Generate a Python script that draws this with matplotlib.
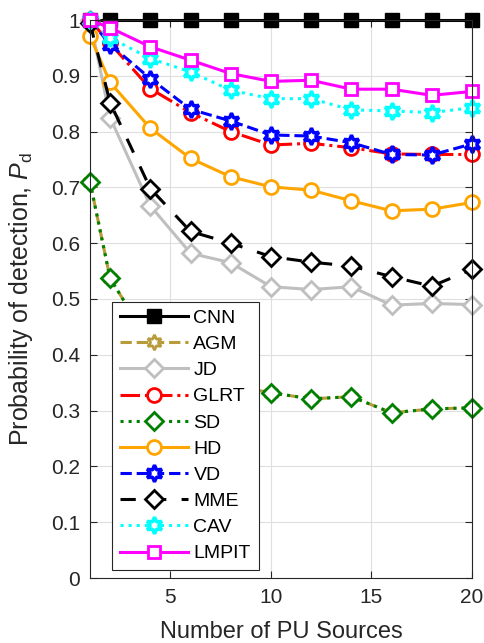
import numpy as np
import matplotlib
matplotlib.use('Agg')
from matplotlib import pyplot as plt

plt.rcParams['font.family'] = ['Liberation Sans', 'DejaVu Sans']
plt.rcParams['mathtext.fontset'] = 'custom'
plt.rcParams['mathtext.it'] = 'Liberation Sans:italic'
plt.rcParams['mathtext.rm'] = 'Liberation Sans'

sources = [1, 2, 4, 6, 8, 10, 12, 14, 16, 18, 20]

cnn = [1.0, 1.0, 1.0, 1.0, 1.0, 1.0, 1.0, 1.0, 1.0, 1.0, 1.0]
agm = [0.710, 0.537, 0.420, 0.370, 0.345, 0.332, 0.321, 0.325, 0.296, 0.303, 0.305]
jd = [1.0, 0.825, 0.667, 0.582, 0.565, 0.522, 0.517, 0.522, 0.489, 0.492, 0.490]
glrt = [1.0, 0.958, 0.877, 0.834, 0.800, 0.776, 0.779, 0.771, 0.760, 0.759, 0.759]
sd = [0.710, 0.537, 0.420, 0.370, 0.345, 0.332, 0.321, 0.325, 0.296, 0.303, 0.305]
hd = [0.971, 0.888, 0.806, 0.752, 0.719, 0.701, 0.695, 0.676, 0.658, 0.661, 0.673]
vd = [1.0, 0.956, 0.895, 0.840, 0.819, 0.794, 0.792, 0.780, 0.759, 0.758, 0.778]
mme = [0.995, 0.852, 0.698, 0.621, 0.600, 0.576, 0.566, 0.559, 0.540, 0.523, 0.553]
cav = [1.0, 0.968, 0.931, 0.907, 0.874, 0.859, 0.859, 0.839, 0.837, 0.834, 0.843]
lmpit = [1.0, 0.986, 0.952, 0.928, 0.904, 0.890, 0.892, 0.876, 0.876, 0.865, 0.872]

hexagram = (6, 1, 0)
dark = '#262626'

fig = plt.figure(figsize=(4.85, 6.43), dpi=100)
ax = fig.add_axes([90 / 485, 1 - 578 / 643, 382 / 485, 558 / 643])

lw = 2.2
common = dict(lw=lw, clip_on=False)
ax.plot(sources, cnn, '-', color='black', marker='s', ms=10,
        mfc='black', mec='black', label='CNN', **common)
ax.plot(sources, agm, '--', color='#B89B3A', marker=hexagram, ms=11,
        mfc='white', mec='#B89B3A', mew=2, label='AGM', **common)
ax.plot(sources, jd, '-', color='#BFBFBF', marker='D', ms=9,
        mfc='white', mec='#BFBFBF', mew=2, label='JD', **common)
ax.plot(sources, glrt, '-.', color='red', marker='o', ms=10,
        mfc='white', mec='red', mew=2, label='GLRT', **common)
ax.plot(sources, sd, ':', color='#008000', marker='D', ms=9,
        mfc='white', mec='#008000', mew=2, label='SD', **common)
ax.plot(sources, hd, '-', color='#FFA500', marker='o', ms=10,
        mfc='white', mec='#FFA500', mew=2, label='HD', **common)
ax.plot(sources, vd, '--', color='blue', marker=hexagram, ms=12,
        mfc='white', mec='blue', mew=2.5, label='VD', **common)
ax.plot(sources, mme, color='black', dashes=(5, 5), marker='D', ms=9,
        mfc='white', mec='black', mew=2, label='MME', **common)
ax.plot(sources, cav, ':', color='cyan', marker=hexagram, ms=12,
        mfc='white', mec='cyan', mew=2.5, label='CAV', **common)
ax.plot(sources, lmpit, '-', color='magenta', marker='s', ms=9,
        mfc='white', mec='magenta', mew=2, label='LMPIT', **common)

ax.set_xlim(1, 20)
ax.set_ylim(0, 1)
ax.set_xticks([5, 10, 15, 20])
ax.set_yticks(np.arange(0, 1.01, 0.1))
ax.set_yticklabels(['0', '0.1', '0.2', '0.3', '0.4', '0.5', '0.6', '0.7', '0.8', '0.9', '1'])
ax.grid(True, color='#DFDFDF', lw=0.8)
ax.set_axisbelow(True)
ax.tick_params(direction='in', top=True, right=True, labelsize=15,
               colors=dark, length=5, pad=7)
for sp in ax.spines.values():
    sp.set_color(dark)
    sp.set_linewidth(0.8)

ax.set_xlabel('Number of PU Sources', fontsize=17, color=dark)
ax.set_ylabel(r'Probability of detection, $P_{\mathrm{d}}$', fontsize=18,
              color=dark)
ax.xaxis.set_label_coords(0.5, -0.077)
ax.yaxis.set_label_coords(-0.144, 0.5)

leg = ax.legend(loc='lower left', bbox_to_anchor=(0.057, 0.014), borderaxespad=0,
                fontsize=14, handlelength=3.5, handletextpad=0.3,
                fancybox=False, framealpha=1, edgecolor=dark,
                labelspacing=0.44, borderpad=0.4)
leg.get_frame().set_linewidth(0.8)

fig.savefig('out.png', dpi=100)
